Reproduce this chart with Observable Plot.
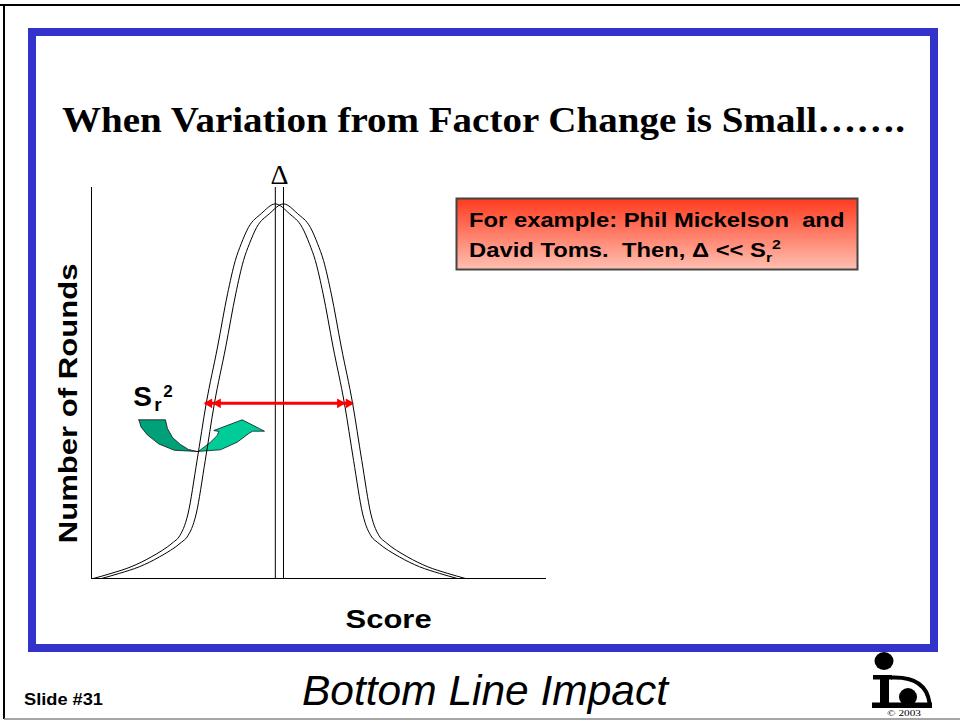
<!DOCTYPE html>
<html><head><meta charset="utf-8">
<script src="https://cdn.jsdelivr.net/npm/d3@7"></script>
<script src="https://cdn.jsdelivr.net/npm/@observablehq/plot@0.6"></script>
<style>
html,body{margin:0;padding:0;background:#fff;}
#slide{position:relative;width:960px;height:721px;overflow:hidden;background:#fff;}
#slide svg{position:absolute;left:0;top:0;}
#deco{pointer-events:none;}
#deco text{white-space:pre;}
</style></head><body>
<div id="slide"></div>
<script>
// ---- data ----
const rounds = [0,1.3,3.0,5.5,9.3,10.6,16.5,30.2,44.7,59.2,72.8,81.3,85.6,89.8,93.3,95.8,93.3,89.8,85.6,81.3,72.8,59.2,44.7,30.2,16.5,10.6,9.3,5.5,3.0,1.3,0];
const scoreBefore = [0.4,4.3,8.7,13.1,18.0,19.2,21.2,23.2,25.2,27.7,29.9,31.6,32.9,34.5,37.3,40.4,43.5,46.3,47.9,49.2,50.9,53.1,55.6,57.6,59.6,61.6,62.8,67.7,72.1,76.5,80.4];
const scoreAfter = [2.2,6.1,10.5,14.9,19.8,21.0,23.0,25.0,27.0,29.5,31.7,33.4,34.7,36.3,39.1,42.2,45.3,48.1,49.7,51.0,52.7,54.9,57.4,59.4,61.4,63.4,64.6,69.5,73.9,78.3,82.2];
const means = [40.4, 42.2];              // the two vertical lines (factor change Δ)
const spreadLevel = 44.8;                // height of the S_r^2 arrow
const spreadEnds = [25.05, 57.4];        // extent of the red double arrow
const headsLeft = [25.9, 27.8];
const headsRight = [54.6, 56.5];
// curved green arrow outline (score, rounds)
const greenDarkX = [10.40,16.26,16.70,17.80,19.56,21.32,23.23,18.20,14.80,12.30,10.90,10.40];
const greenDarkY = [40.59,40.59,38.36,36.06,34.27,32.99,32.48,32.80,34.40,36.70,38.70,40.59];
const greenLightX = [23.23,28.35,32.02,34.57,35.38,38.02,33.12,26.88,27.98,27.63,26.15,23.58,23.23];
const greenLightY = [32.48,32.92,34.86,37.08,37.67,37.67,40.59,37.85,37.60,36.57,34.86,32.56,32.48];

const curveA = rounds.map((r, i) => ({score: scoreBefore[i], rounds: r}));
const curveB = rounds.map((r, i) => ({score: scoreAfter[i], rounds: r}));
const greenDark = greenDarkX.map((x, i) => ({x, y: greenDarkY[i]}));
const greenLight = greenLightX.map((x, i) => ({x, y: greenLightY[i]}));

const chart = Plot.plot({
  width: 960, height: 721,
  marginLeft: 91, marginRight: 414, marginTop: 187, marginBottom: 143,
  x: {domain: [0, 100], axis: null},
  y: {domain: [0, 100], axis: null},
  style: {background: "transparent", fontFamily: "'Liberation Sans', Arial, sans-serif", overflow: "visible"},
  marks: [
    Plot.line(greenDark, {x: "x", y: "y", fill: "#00a078", stroke: "#000", strokeWidth: 0.7, curve: "linear"}),
    Plot.line(greenLight, {x: "x", y: "y", fill: "#00cc99", stroke: "#000", strokeWidth: 0.7, curve: "linear"}),
    Plot.ruleX([0], {y1: 0, y2: 100, stroke: "#000", strokeWidth: 1}),
    Plot.ruleY([0], {x1: 0, x2: 100, stroke: "#000", strokeWidth: 1}),
    Plot.ruleX(means, {y1: 0, y2: 100, stroke: "#000", strokeWidth: 1}),
    Plot.line(curveA, {x: "score", y: "rounds", stroke: "#000", strokeWidth: 1, curve: "monotone-x"}),
    Plot.line(curveB, {x: "score", y: "rounds", stroke: "#000", strokeWidth: 1, curve: "monotone-x"}),
    Plot.ruleY([spreadLevel], {x1: spreadEnds[0], x2: spreadEnds[1], stroke: "#ff0000", strokeWidth: 3}),
    Plot.dot(headsLeft, {x: d => d, y: () => spreadLevel, symbol: "triangle", r: 3.6, rotate: -90, fill: "#ff0000", stroke: "none"}),
    Plot.dot(headsRight, {x: d => d, y: () => spreadLevel, symbol: "triangle", r: 3.6, rotate: 90, fill: "#ff0000", stroke: "none"}),
    Plot.text([{x: (means[0] + means[1]) / 2, y: 100, t: "Δ"}], {x: "x", y: "y", text: "t", dy: -4, lineAnchor: "bottom", fontFamily: "'Liberation Serif', serif", fontSize: 28, fill: "#000"}),
    Plot.text([{x: 0, y: spreadLevel, t: "Number of Rounds"}], {x: "x", y: "y", text: "t", dx: -15, rotate: -90, lineAnchor: "bottom", textAnchor: "middle", fontSize: 25, fontWeight: "bold", fill: "#000"}),
    Plot.text([{x: 65.3, y: 0, t: "Score"}], {x: "x", y: "y", text: "t", dy: 49, lineAnchor: "bottom", textAnchor: "middle", fontSize: 26, fontWeight: "bold", fill: "#000"}),
    Plot.text([{x: 9.2, y: 44.0, t: "S"}], {x: "x", y: "y", text: "t", lineAnchor: "bottom", textAnchor: "start", fontSize: 28, fontWeight: "bold", fill: "#000"}),
    Plot.text([{x: 9.2, y: 44.0, t: "r"}], {x: "x", y: "y", text: "t", dx: 21, dy: 5, lineAnchor: "bottom", textAnchor: "start", fontSize: 19, fontWeight: "bold", fill: "#000"}),
    Plot.text([{x: 9.2, y: 44.0, t: "2"}], {x: "x", y: "y", text: "t", dx: 30, dy: -9, lineAnchor: "bottom", textAnchor: "start", fontSize: 17, fontWeight: "bold", fill: "#000"})
  ]
});

d3.select(chart).selectAll("text").each(function() {
  const t = this.textContent;
  if (t === "Number of Rounds") { this.setAttribute("textLength", 280); this.setAttribute("lengthAdjust", "spacingAndGlyphs"); }
  if (t === "Score") { this.setAttribute("textLength", 86); this.setAttribute("lengthAdjust", "spacingAndGlyphs"); }
});

const slide = document.getElementById("slide");
slide.appendChild(chart);

const deco = `
<svg id="deco" width="960" height="721" viewBox="0 0 960 721" font-family="'Liberation Sans', Arial, sans-serif">
 <defs><linearGradient id="boxfill" x1="0" y1="0" x2="0" y2="1">
  <stop offset="0" stop-color="#ff3a1e"/><stop offset="1" stop-color="#ffc0b2"/></linearGradient></defs>
 <line x1="0" y1="5" x2="960" y2="5" stroke="#000" stroke-width="2"/>
 <line x1="4" y1="4" x2="4" y2="719" stroke="#000" stroke-width="2"/>
 <line x1="4" y1="719" x2="960" y2="719" stroke="#888" stroke-width="1.5"/>
 <rect x="32" y="32" width="902" height="616" fill="none" stroke="#3333cc" stroke-width="8"/>
 <text x="62" y="132" font-family="'Liberation Serif', 'Times New Roman', serif" font-size="36" font-weight="bold" textLength="843" lengthAdjust="spacingAndGlyphs">When Variation from Factor Change is Small…….</text>
 <rect x="456.5" y="198.5" width="401" height="71" fill="url(#boxfill)" stroke="#444" stroke-width="2"/>
 <g transform="translate(469,0) scale(1.22,1)" font-weight="bold" font-size="19.5">
  <text x="0" y="227">For example: Phil Mickelson  and</text>
  <text x="0" y="257">David Toms.  Then, Δ &lt;&lt; S<tspan font-size="13" dy="5">r</tspan><tspan font-size="13" dy="-13">2</tspan></text>
 </g>
 <text x="24" y="705" font-size="16" font-weight="bold" textLength="79" lengthAdjust="spacingAndGlyphs">Slide #31</text>
 <text x="302" y="705" font-size="43" font-style="italic" textLength="366" lengthAdjust="spacingAndGlyphs">Bottom Line Impact</text>
 <g fill="#000">
  <ellipse cx="884" cy="661" rx="9.5" ry="9"/>
  <path d="M873,675 H892 V679.5 H889 V703 H880 V679.5 H873 Z"/>
  <path d="M891,677.5 Q926,676 929.5,703" fill="none" stroke="#000" stroke-width="4"/>
  <circle cx="908" cy="697" r="9"/>
  <rect x="872" y="702.5" width="60" height="5.5"/>
 </g>
 <text x="887" y="716" font-family="'Liberation Serif', serif" font-size="8.5" textLength="34" lengthAdjust="spacingAndGlyphs">© 2003</text>
</svg>`;
slide.insertAdjacentHTML("beforeend", deco);
</script>
</body></html>
